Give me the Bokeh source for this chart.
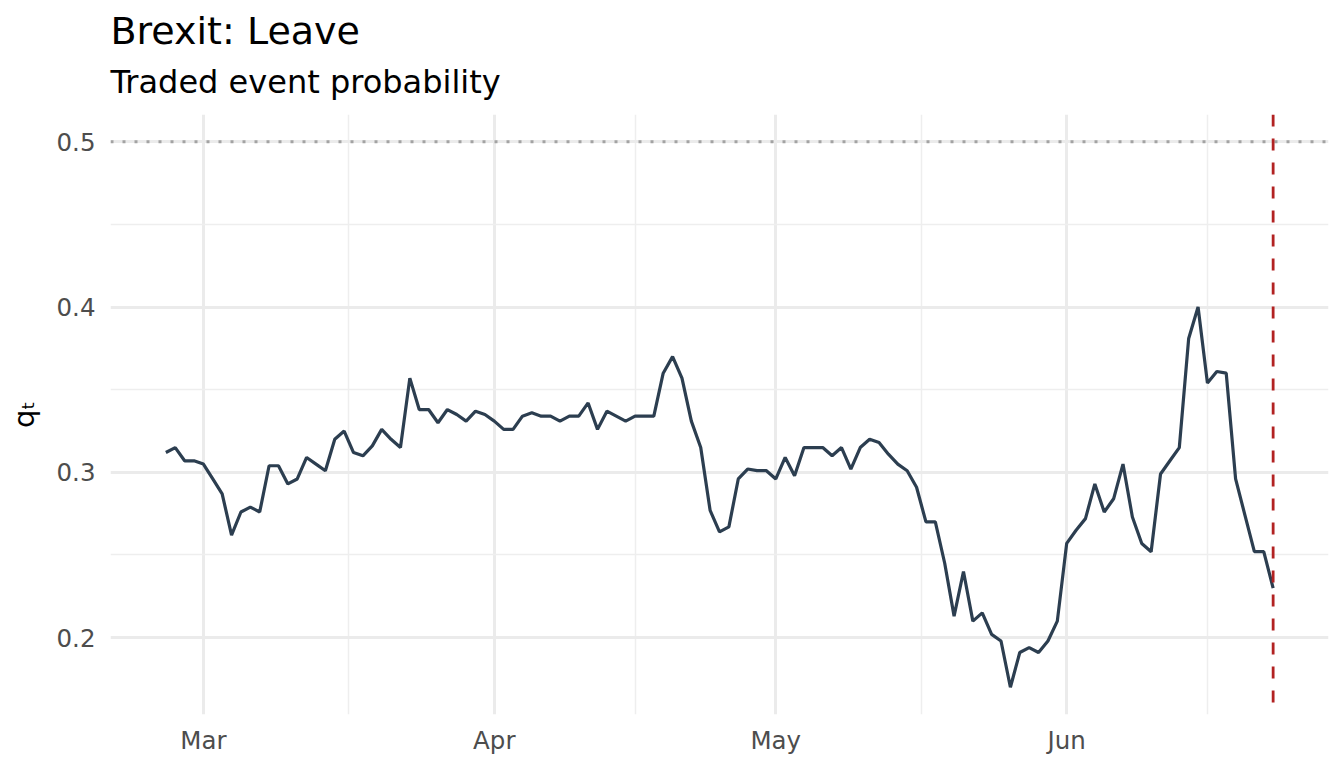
import pandas as pd
from bokeh.plotting import figure
from bokeh.models import Range1d, FixedTicker, DatetimeTickFormatter, Span, Title
from bokeh.embed import file_html
from bokeh.resources import INLINE

# ---- data -------------------------------------------------------------
first_day = "2016-02-26"
last_day = "2016-06-23"
prob_feb = [0.312, 0.315, 0.307, 0.307]
prob_mar = [0.305, 0.296, 0.287, 0.262, 0.276, 0.279, 0.276, 0.304, 0.304, 0.293,
            0.296, 0.309, 0.305, 0.301, 0.320, 0.325, 0.312, 0.310, 0.316, 0.326,
            0.320, 0.315, 0.357, 0.338, 0.338, 0.330, 0.338, 0.335, 0.331, 0.337,
            0.335]
prob_apr = [0.331, 0.326, 0.326, 0.334, 0.336, 0.334, 0.334, 0.331, 0.334, 0.334,
            0.342, 0.326, 0.337, 0.334, 0.331, 0.334, 0.334, 0.334, 0.360, 0.370,
            0.357, 0.331, 0.315, 0.277, 0.264, 0.267, 0.296, 0.302, 0.301, 0.301]
prob_may = [0.296, 0.309, 0.298, 0.315, 0.315, 0.315, 0.310, 0.315, 0.302, 0.315,
            0.320, 0.318, 0.311, 0.305, 0.301, 0.291, 0.270, 0.270, 0.245, 0.213,
            0.240, 0.210, 0.215, 0.202, 0.198, 0.170, 0.191, 0.194, 0.191, 0.198,
            0.210]
prob_jun = [0.257, 0.265, 0.272, 0.293, 0.276, 0.284, 0.305, 0.273, 0.257, 0.252,
            0.299, 0.307, 0.315, 0.381, 0.400, 0.354, 0.361, 0.360, 0.296, 0.274,
            0.252, 0.252, 0.230]
probability = prob_feb + prob_mar + prob_apr + prob_may + prob_jun
dates = pd.date_range(first_day, last_day, freq="D")

reference_level = 0.5
referendum_day = "2016-06-23"
month_starts = ["2016-03-01", "2016-04-01", "2016-05-01", "2016-06-01"]
month_bounds = ["2016-02-01", "2016-03-01", "2016-04-01", "2016-05-01", "2016-06-01", "2016-07-01"]
y_ticks = [0.2, 0.3, 0.4, 0.5]
y_minor = [0.15, 0.25, 0.35, 0.45]

title_text = "Brexit: Leave"
subtitle_text = "Traded event probability"
y_label = "q\u209c"

# ---- helpers ------------------------------------------------------------
def ms(d):
    return pd.Timestamp(d).value / 1e6

FONT = "DejaVu Sans"

x0, x1 = ms(dates[0]), ms(dates[-1])
xpad = (x1 - x0) * 0.05
ymin = min(probability)
ymax = max(max(probability), reference_level)
ypad = (ymax - ymin) * 0.05

p = figure(width=1336, height=760, x_axis_type="datetime",
           x_range=Range1d(x0 - xpad, x1 + xpad),
           y_range=Range1d(ymin - ypad, ymax + ypad),
           output_backend="svg", toolbar_location=None, title=None,
           min_border_left=110, min_border_right=8, min_border_top=114,
           min_border_bottom=46)
p.outline_line_color = None
p.background_fill_color = "white"
p.border_fill_color = "white"

# header: small spacer next to the plot area, then subtitle, then title
p.add_layout(Title(text=" ", text_font=FONT, text_font_size="1px",
                   text_color="white", standoff=2), "above")
p.add_layout(Title(text=subtitle_text, text_font=FONT, text_font_size="32px",
                   text_font_style="normal", text_color="black", align="left",
                   standoff=17), "above")
p.add_layout(Title(text=title_text, text_font=FONT, text_font_size="38px",
                   text_font_style="normal", text_color="black", align="left",
                   standoff=0), "above")

minor_x = [(ms(a) + ms(b)) / 2 for a, b in zip(month_bounds[:-1], month_bounds[1:])]
p.xaxis.ticker = FixedTicker(ticks=[ms(d) for d in month_starts], minor_ticks=minor_x)
p.xaxis.formatter = DatetimeTickFormatter(milliseconds="%b", seconds="%b", minsec="%b",
                                          minutes="%b", hourmin="%b", hours="%b",
                                          days="%b", months="%b", years="%b")
p.yaxis.ticker = FixedTicker(ticks=y_ticks, minor_ticks=y_minor)

for ax in (p.xaxis, p.yaxis):
    ax.axis_line_color = None
    ax.major_tick_line_color = None
    ax.minor_tick_line_color = None
    ax.major_tick_out = 0
    ax.major_tick_in = 0
    ax.minor_tick_out = 0
    ax.minor_tick_in = 0
    ax.major_label_text_color = "#4D4D4D"
    ax.major_label_text_font = FONT
    ax.major_label_text_font_size = "24.5px"

p.xaxis.major_label_standoff = 11
p.yaxis.major_label_standoff = 15

p.yaxis.axis_label = y_label
p.yaxis.axis_label_text_font = FONT
p.yaxis.axis_label_text_font_size = "29px"
p.yaxis.axis_label_text_font_style = "normal"
p.yaxis.axis_label_text_color = "black"
p.yaxis.axis_label_standoff = 13

for g in (p.xgrid, p.ygrid):
    g.grid_line_color = "#EBEBEB"
    g.grid_line_width = 3
    g.minor_grid_line_color = "#EEEEEE"
    g.minor_grid_line_width = 1.5

p.add_layout(Span(location=reference_level, dimension="width", line_color="#A3A3A3",
                  line_width=2.8, line_dash="3 9", level="underlay"))

p.line(dates, probability, line_color="#2C3E50", line_width=3.2)

p.add_layout(Span(location=ms(referendum_day), dimension="height", line_color="#B22222",
                  line_width=2.8, line_dash="12 12"))

open("out.html", "w").write(file_html(p, INLINE))
